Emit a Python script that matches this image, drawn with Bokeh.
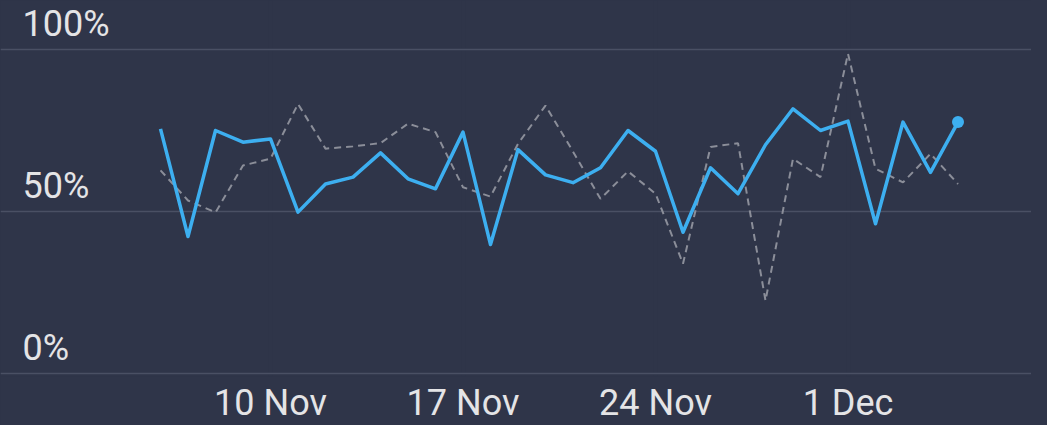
from datetime import datetime, timedelta
from bokeh.plotting import figure
from bokeh.models import ColumnDataSource, Range1d, FixedTicker, DatetimeTickFormatter, LabelSet
from bokeh.core.properties import value
from bokeh.embed import file_html
from bokeh.resources import INLINE

# ---- data ----
start_day = datetime(2023, 11, 6)
dates = [start_day + timedelta(days=i) for i in range(30)]
current = [75.5, 42.3, 75.0, 71.4, 72.4, 49.8, 58.5, 60.6, 68.1, 60.1,
           57.0, 74.5, 39.8, 69.1, 61.3, 58.9, 63.5, 75.0, 68.6, 43.6,
           63.5, 55.5, 70.6, 81.7, 75.0, 77.9, 46.2, 77.6, 62.1, 77.6]
previous = [62.7, 53.4, 49.7, 64.2, 66.3, 83.2, 69.4, 70.1, 71.1, 77.1,
            74.5, 57.5, 54.6, 70.9, 82.7, 68.5, 53.9, 62.4, 55.5, 33.9,
            69.9, 71.1, 22.5, 66.3, 60.6, 98.7, 63.2, 59.0, 67.8, 58.5]
y_ticks = [0, 50, 100]
y_tick_labels = ["0%", "50%", "100%"]
x_tick_dates = [datetime(2023, 11, 10), datetime(2023, 11, 17),
                datetime(2023, 11, 24), datetime(2023, 12, 1)]

BG = "#2f3549"
GRID = "#4a5064"
BLUE = "#3daff0"
GRAY = "#8b8e99"
TEXT = "#e4e4e6"
FONT = "Roboto"

def ms(d):
    return (d - datetime(1970, 1, 1)).total_seconds() * 1000.0

W = 1031
px_per_day = 27.5
x0 = 160
x_start = start_day - timedelta(days=x0 / px_per_day)
x_end = start_day + timedelta(days=(W - x0) / px_per_day)

FH = 376
top = 100 + 49 / 3.24
bottom = -(FH - 373) / 3.24

p = figure(frame_width=W, frame_height=FH, output_backend="svg", toolbar_location=None,
           x_axis_type="datetime", x_range=Range1d(x_start, x_end),
           y_range=Range1d(bottom, top),
           background_fill_color=BG, border_fill_color=BG,
           min_border=0, min_border_left=0, min_border_right=0, min_border_top=0, min_border_bottom=0)
p.outline_line_color = None
p.yaxis.visible = False
p.styles = {"background-color": BG, "box-shadow": "0 0 0 24px " + BG}

xa = p.xaxis[0]
xa.ticker = FixedTicker(ticks=[ms(d) for d in x_tick_dates])
xa.formatter = DatetimeTickFormatter(days="%-d %b", months="%-d %b")
xa.axis_line_color = None
xa.major_tick_line_color = None
xa.minor_tick_line_color = None
xa.major_tick_in = 0
xa.major_tick_out = 0
xa.major_label_standoff = 5
xa.major_label_text_font = FONT
xa.major_label_text_font_size = "36px"
xa.major_label_text_color = TEXT

p.ygrid.ticker = FixedTicker(ticks=y_ticks)
p.ygrid.grid_line_color = GRID
p.ygrid.grid_line_width = 1.5
p.xgrid.ticker = FixedTicker(ticks=[ms(d) for d in x_tick_dates])
p.xgrid.grid_line_color = BG
p.xgrid.grid_line_width = 4

src = ColumnDataSource(dict(x=dates, cur=current, prev=previous))
p.line("x", "prev", source=src, line_color=GRAY, line_width=2, line_dash="7 5")
p.line("x", "cur", source=src, line_color=BLUE, line_width=3.5, line_join="round")
last = ColumnDataSource(dict(x=dates[-1:], y=current[-1:]))
p.scatter("x", "y", source=last, size=12, fill_color=BLUE, line_color=None)

lab_src = ColumnDataSource(dict(y=y_ticks, t=y_tick_labels, x=[22] * len(y_ticks)))
p.add_layout(LabelSet(x="x", y="y", text="t", source=lab_src, x_units="screen", y_units="data",
                      y_offset=14, text_font=value(FONT), text_font_size="36px", text_color=TEXT,
                      text_baseline="alphabetic"))

open("out.html", "w").write(file_html(p, INLINE))
